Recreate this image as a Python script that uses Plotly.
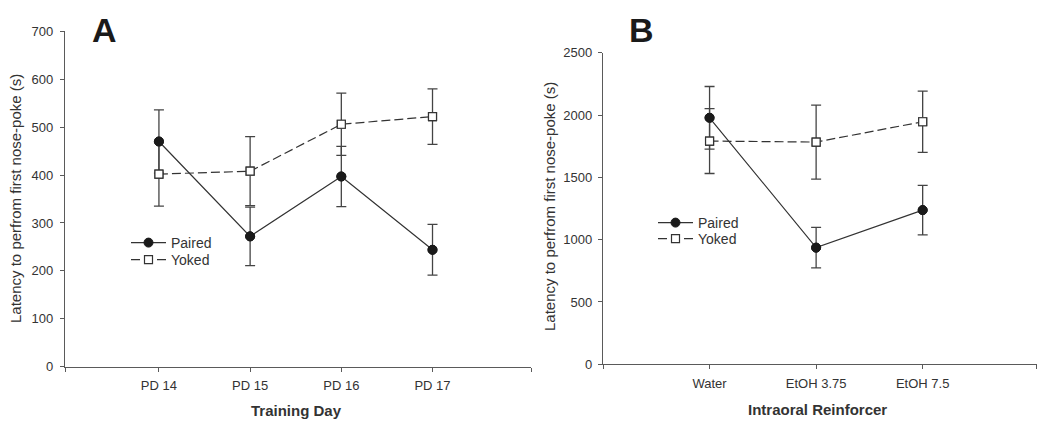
import plotly.graph_objects as go

# ---------------- data ----------------
days = ["PD 14", "PD 15", "PD 16", "PD 17"]
a_paired = [470, 272, 397, 244]
a_paired_err = [66, 61, 63, 53]
a_yoked = [402, 408, 506, 522]
a_yoked_err = [67, 72, 65, 58]

reinforcers = ["Water", "EtOH 3.75", "EtOH 7.5"]
b_paired = [1978, 936, 1237]
b_paired_err = [251, 162, 198]
b_yoked = [1791, 1783, 1946]
b_yoked_err = [260, 297, 245]

W, H = 1050, 426
OFF = 8  # page body margin offset
FONT = "Liberation Sans, Arial, sans-serif"
LINE = "#333333"
AXC = "#5a5a5a"


def px(x):
    return (x - OFF) / W


def py(y):
    return 1 - (y - OFF) / H


fig = go.Figure()


def add_panel(cats, paired, perr, yoked, yerr, xa, ya, leg_p, leg_y):
    xs = list(range(1, len(cats) + 1))
    fig.add_trace(go.Scatter(
        x=xs, y=paired, name="Paired", mode="lines+markers", xaxis=xa, yaxis=ya,
        line=dict(color=LINE, width=1.2),
        marker=dict(symbol="circle", size=9, color="#1a1a1a", line=dict(color="#1a1a1a", width=1)),
        error_y=dict(type="data", array=perr, visible=True, color="#444", thickness=1.3, width=5),
        legend=leg_p,
    ))
    fig.add_trace(go.Scatter(
        x=xs, y=yoked, name="Yoked", mode="lines+markers", xaxis=xa, yaxis=ya,
        line=dict(color=LINE, width=1.2, dash="9px,4px"),
        marker=dict(symbol="square", size=8, color="white", line=dict(color="#333", width=1.2)),
        error_y=dict(type="data", array=yerr, visible=True, color="#444", thickness=1.3, width=5),
        legend=leg_y,
    ))
    # markers on top of error bars
    fig.add_trace(go.Scatter(
        x=xs, y=yoked, mode="markers", xaxis=xa, yaxis=ya, showlegend=False, hoverinfo="skip",
        marker=dict(symbol="square", size=8, color="white", line=dict(color="#333", width=1.2)),
    ))
    fig.add_trace(go.Scatter(
        x=xs, y=paired, mode="markers", xaxis=xa, yaxis=ya, showlegend=False, hoverinfo="skip",
        marker=dict(symbol="circle", size=9, color="#1a1a1a", line=dict(color="#1a1a1a", width=1)),
    ))


add_panel(days, a_paired, a_paired_err, a_yoked, a_yoked_err, "x", "y", "legend", "legend2")
add_panel(reinforcers, b_paired, b_paired_err, b_yoked, b_yoked_err, "x2", "y2", "legend3", "legend4")

axis_common = dict(
    showline=True, linecolor=AXC, linewidth=1.3, ticks="outside", ticklen=4,
    tickcolor=AXC, tickwidth=1.2, showgrid=False, zeroline=False,
    tickfont=dict(family=FONT, size=13, color="#333"),
)

a_lo, a_hi = -0.03, 5.08
b_lo, b_hi = 0.0, 4.07


def leg(x, y):
    return dict(x=px(x), y=py(y), xanchor="left", yanchor="middle", itemwidth=35,
                bgcolor="rgba(0,0,0,0)", font=dict(family=FONT, size=14, color="#333"),
                tracegroupgap=0)


fig.update_layout(
    width=W, height=H,
    margin=dict(l=0, r=0, t=0, b=0, autoexpand=False),
    paper_bgcolor="white", plot_bgcolor="white",
    font=dict(family=FONT, color="#333"),
    xaxis=dict(domain=[px(65), px(531)], range=[a_lo, a_hi], ticklabelstandoff=3,
               tickvals=[a_lo, 1, 2, 3, 4, a_hi], ticktext=[""] + days + [""], **axis_common),
    yaxis=dict(domain=[py(366.7), py(31.3)], range=[0, 700], ticklabelstandoff=4,
               tickvals=[0, 100, 200, 300, 400, 500, 600, 700], **axis_common),
    xaxis2=dict(domain=[px(603), px(1036.7)], range=[b_lo, b_hi], anchor="y2", ticklabelstandoff=3,
                tickvals=[b_lo, 1, 2, 3, b_hi], ticktext=[""] + reinforcers + [""], **axis_common),
    yaxis2=dict(domain=[py(364.3), py(52.7)], range=[0, 2500], anchor="x2", ticklabelstandoff=3,
                tickvals=[0, 500, 1000, 1500, 2000, 2500], **axis_common),
    legend=leg(126, 243),
    legend2=leg(126, 260),
    legend3=leg(653, 223),
    legend4=leg(653, 239),
    showlegend=True,
)

ann = [
    dict(text="<b>A</b>", x=px(104), y=py(30), font=dict(size=34, color="#1a1a1a", family=FONT)),
    dict(text="<b>B</b>", x=px(641), y=py(30), font=dict(size=34, color="#1a1a1a", family=FONT)),
    dict(text="<b>Training Day</b>", x=px(296), y=py(410), font=dict(size=15, color="#333", family=FONT)),
    dict(text="<b>Intraoral Reinforcer</b>", x=px(817), y=py(409), font=dict(size=15, color="#333", family=FONT)),
    dict(text="Latency to perfrom first nose-poke (s)", x=px(16), y=py(199), textangle=-90,
         font=dict(size=15, color="#333", family=FONT)),
    dict(text="Latency to perfrom first nose-poke (s)", x=px(549), y=py(207), textangle=-90,
         font=dict(size=15, color="#333", family=FONT)),
]
for a in ann:
    a.update(xref="paper", yref="paper", xanchor="center", yanchor="middle", showarrow=False)
    fig.add_annotation(**a)

fig.write_html("out.html")
